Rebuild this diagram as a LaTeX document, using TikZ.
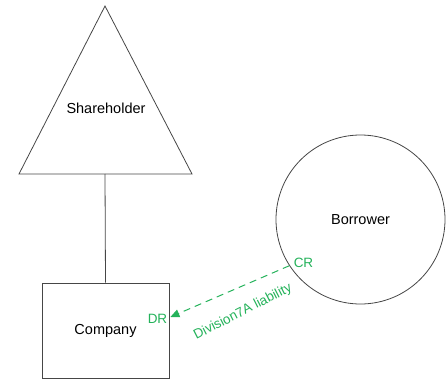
\documentclass[tikz,border=0pt]{standalone}
\usepackage{fontspec}
\setmainfont{Liberation Sans}
\usetikzlibrary{arrows.meta,calc}
\definecolor{linegray}{RGB}{70,70,70}
\definecolor{entrygreen}{RGB}{36,178,90}
\begin{document}
\begin{tikzpicture}[x=1pt,y=-1pt,
  outline/.style={draw=linegray,line width=0.8pt},
  entity/.style={outline,inner sep=0pt,font=\fontsize{14.5}{16}\selectfont},
  entry/.style={text=entrygreen,inner sep=0pt,font=\fontsize{13.5}{15}\selectfont},
  flow/.style={draw=entrygreen,line width=1pt,dash pattern=on 7pt off 5pt,
    -{Triangle[length=9pt,width=8pt]}}]
\useasboundingbox (0,0) rectangle (448,380);
% shareholder triangle
\coordinate (apex) at (105,6);
\coordinate (bl) at (19,174);
\coordinate (br) at (192,174);
\coordinate (shbase) at (105,174);
\draw[outline,line join=miter] (apex) -- (br) -- (bl) -- cycle;
\node[font=\fontsize{14.5}{16}\selectfont] (sh) at (106,108) {Shareholder};
% company and borrower
\node[entity,rectangle,minimum width=127pt,minimum height=95pt] (co) at (105.5,330.5) {Company};
\node[entity,circle,minimum size=169pt] (bor) at (360.5,219.5) {Borrower};
\draw[outline] (shbase) -- (co.north);
% Division 7A loan entry
\coordinate (tip) at ($(co.east)+(1,-13.5)$);
\draw[flow] (bor.213.8) -- (tip);
\node[entry] (cr) at (303.5,263) {CR};
\node[entry] (dr) at (157.5,319) {DR};
\node[entry,rotate=27] (lab) at (243,312) {Division7A liability};
\end{tikzpicture}
\end{document}
